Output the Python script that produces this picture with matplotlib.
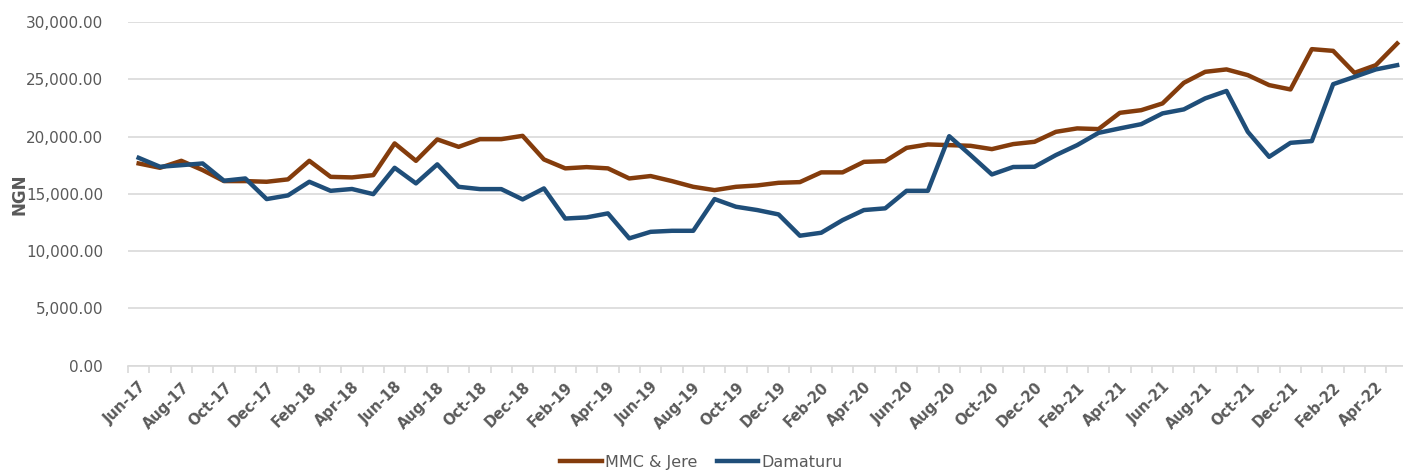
import matplotlib.pyplot as plt
from matplotlib.ticker import FuncFormatter, MultipleLocator, FixedLocator
import numpy as np

# -----------------------
# DATA (monthly, Jun-17 .. May-22)
# -----------------------

months = [
    "Jun-17", "Jul-17", "Aug-17", "Sep-17", "Oct-17", "Nov-17", "Dec-17",
    "Jan-18", "Feb-18", "Mar-18", "Apr-18", "May-18", "Jun-18", "Jul-18",
    "Aug-18", "Sep-18", "Oct-18", "Nov-18", "Dec-18", "Jan-19", "Feb-19",
    "Mar-19", "Apr-19", "May-19", "Jun-19", "Jul-19", "Aug-19", "Sep-19",
    "Oct-19", "Nov-19", "Dec-19", "Jan-20", "Feb-20", "Mar-20", "Apr-20",
    "May-20", "Jun-20", "Jul-20", "Aug-20", "Sep-20", "Oct-20", "Nov-20",
    "Dec-20", "Jan-21", "Feb-21", "Mar-21", "Apr-21", "May-21", "Jun-21",
    "Jul-21", "Aug-21", "Sep-21", "Oct-21", "Nov-21", "Dec-21", "Jan-22",
    "Feb-22", "Mar-22", "Apr-22", "May-22",
]

mmc_jere = [
    17650, 17270, 17880, 17070, 16110, 16110, 16050, 16260, 17880, 16480,
    16430, 16630, 19400, 17880, 19750, 19100, 19770, 19770, 20060, 18000,
    17220, 17330, 17220, 16340, 16550, 16110, 15610, 15320, 15610, 15730,
    15960, 16020, 16870, 16870, 17790, 17850, 19010, 19310, 19250, 19190,
    18900, 19340, 19540, 20410, 20710, 20650, 22070, 22300, 22890, 24690,
    25650, 25860, 25360, 24490, 24110, 27630, 27480, 25560, 26230, 28120,
]

damaturu = [
    18140, 17360, 17500, 17650, 16140, 16340, 14540, 14860, 16050, 15260,
    15420, 14970, 17270, 15910, 17570, 15610, 15410, 15410, 14510, 15470,
    12840, 12940, 13290, 11110, 11680, 11770, 11770, 14540, 13870, 13580,
    13200, 11340, 11600, 12700, 13580, 13730, 15260, 15260, 20030, 18380,
    16690, 17340, 17360, 18380, 19250, 20320, 20710, 21080, 22020, 22370,
    23330, 23980, 20410, 18230, 19450, 19600, 24570, 25210, 25860, 26230,
]

BROWN = "#843C0C"
BLUE = "#1F4E79"
GREY_TXT = "#595959"
GRID = "#D9D9D9"

# -----------------------
# PLOT
# -----------------------

fig = plt.figure(figsize=(14.03, 4.74), dpi=100)
ax = fig.add_axes([128 / 1403, 1 - 365.6 / 474, 1275 / 1403, 343.6 / 474])

x = np.arange(len(months))
ax.plot(x, mmc_jere, color=BROWN, lw=3.2, label="MMC & Jere", solid_joinstyle="round")
ax.plot(x, damaturu, color=BLUE, lw=3.2, label="Damaturu", solid_joinstyle="round")

ax.set_ylim(0, 30000)
ax.set_xlim(-0.5, -0.5 + 1275 / 21.33)
ax.yaxis.set_major_locator(MultipleLocator(5000))
ax.yaxis.set_major_formatter(FuncFormatter(lambda v, _: f"{v:,.2f}"))
ax.grid(axis="y", color=GRID, lw=1.2)
ax.set_axisbelow(True)

for s in ["top", "right", "left"]:
    ax.spines[s].set_visible(False)
ax.spines["bottom"].set_color(GRID)
ax.spines["bottom"].set_linewidth(1.2)

ax.tick_params(axis="y", length=0, pad=18, labelsize=11, labelcolor=GREY_TXT)

# labels every 2 months, tick marks between categories
ax.set_xticks(x[::2])
ax.set_xticklabels(months[::2], rotation=45, ha="right", rotation_mode="anchor",
                   fontsize=10.5, fontweight="bold", color=GREY_TXT)
ax.tick_params(axis="x", which="major", length=0, pad=10)
ax.xaxis.set_minor_locator(FixedLocator(np.arange(-0.5, len(months), 1)))
ax.tick_params(axis="x", which="minor", length=5, color=GRID, width=1.2)

ax.set_ylabel("NGN", fontsize=12, fontweight="bold", color=GREY_TXT)
ax.yaxis.set_label_coords(-100 / 1275, 0.5)

fig.legend(loc="lower center", bbox_to_anchor=(0.5, -0.022), ncol=2, frameon=False,
           fontsize=11.5, labelcolor=GREY_TXT, handlelength=2.6, columnspacing=1.2,
           handletextpad=0.2)

fig.savefig("out.png", dpi=100)
